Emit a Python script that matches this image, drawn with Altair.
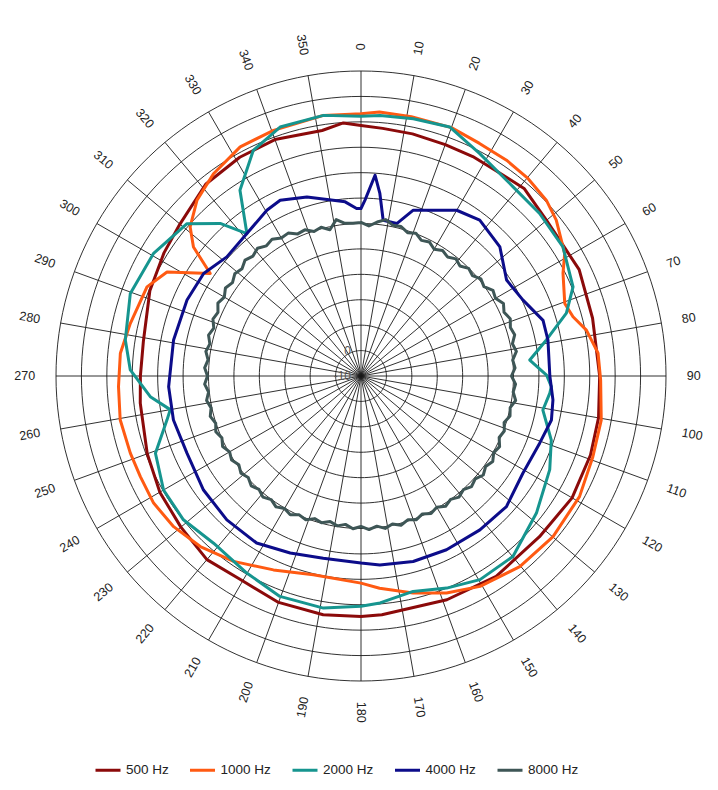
import altair as alt
import pandas as pd

series_names = ["500 Hz", "1000 Hz", "2000 Hz", "4000 Hz", "8000 Hz"]
series_colors = ["#8b0a0a", "#ff5a12", "#16958f", "#0c0c8a", "#3e5656"]

angles_500 = [0, 5, 12, 20, 27, 34, 41, 50, 58, 64, 76, 90, 100, 109, 120, 132, 146, 159, 175, 180,
              189, 200, 211, 220, 230, 240, 250, 263, 270, 279, 292, 302, 310, 321, 331, 340, 351, 356, 360]
levels_500 = [98.6, 97.8, 97.4, 96.9, 96.9, 96.7, 97.8, 95.3, 94.7, 95.5, 93.9, 93.9, 94.9, 95.5, 95.9, 94.5, 95.1, 94.3, 94.3, 94.6,
              95.1, 94.8, 93.1, 94.3, 92.5, 91.4, 89.5, 87.5, 86.8, 86.7, 89.6, 91.4, 93.0, 97.1, 98.4, 99.0, 97.8, 99.8, 98.6]

angles_1000 = [0, 4, 11, 20, 27, 34, 40, 46.5, 51.4, 59, 63, 70.4, 74.4, 78.5, 84.5, 91, 100.4, 109.2, 118.9, 129.9,
               140.2, 150.5, 158.5, 166.5, 175, 180, 193.5, 204.3, 214.5, 223.3, 231.2, 238.5, 245.5, 251.5, 259.7, 267.5,
               275.4, 282.8, 292.6, 298.2, 304.2, 307.6, 311.1, 317, 323.9, 332.2, 340.4, 351.8, 360]
levels_1000 = [103.2, 104.1, 103.9, 104.0, 102.7, 102.4, 101.8, 100.5, 98.3, 93.5, 89.2, 85.1, 86.6, 90.5, 93.7, 94.3, 96.1, 96.6, 98.2, 98.5,
               97.6, 95.1, 91.8, 87.8, 83.8, 81.5, 80.4, 83.7, 88.5, 92.2, 94.6, 95.7, 95.4, 95.7, 96.3, 95.5,
               95.1, 93.1, 91.2, 86.6, 71.7, 83.2, 89.2, 94.6, 98.5, 101.9, 102.6, 103.6, 103.2]

angles_2000 = [0, 4.2, 11.5, 19.6, 28.1, 38.8, 47.7, 57.4, 67.2, 73, 79, 84.6, 89.7, 93.2, 95.2, 100.6, 108.6, 116.4, 128, 139.9,
               149.7, 158, 166.4, 175.2, 180, 189.2, 200.2, 210.1, 221.4, 231, 240, 249.4, 257.2, 260, 264.4, 271.5, 278.7,
               289.7, 300.6, 311.2, 317.3, 321.3, 326.9, 334.5, 342, 351.8, 360]
levels_2000 = [102.2, 102.8, 103.3, 104.0, 99.2, 95.5, 95.0, 94.3, 90.5, 84.5, 74.3, 66.7, 73.0, 75.0, 74.6, 72.8, 79.0, 82.9, 87.6, 92.8,
               92.8, 90.0, 87.2, 89.6, 90.6, 92.5, 92.4, 89.6, 87.7, 89.9, 89.7, 86.4, 78.3, 76.2, 83.3, 90.8, 93.8,
               96.4, 94.8, 91.0, 81.7, 71.8, 87.2, 98.4, 103.0, 103.6, 102.2]

angles_4000 = [0, 1.3, 4, 5.9, 8.1, 13.2, 17.5, 25.4, 30, 37.3, 47.1, 56.6, 64.9, 73, 79.1, 90, 97.1, 103, 110.6, 121,
               131.9, 142.3, 153.8, 164.3, 174.3, 180, 191.7, 201.8, 212, 223, 234.1, 246.1, 256.8, 266.8, 280.9, 293.6,
               303.1, 311.6, 321.3, 330.4, 335.3, 343.2, 351, 354.8, 358.5, 360]
levels_4000 = [65.9, 69.2, 79.2, 72.2, 61.9, 61.6, 68.4, 72.2, 75.3, 77.1, 74.6, 68.6, 70.4, 74.9, 74.9, 74.3, 76.1, 76.9, 75.1, 74.3,
               76.9, 76.5, 76.2, 75.8, 74.7, 73.6, 73.2, 75.0, 77.5, 77.4, 76.5, 74.9, 75.8, 75.8, 75.1, 74.7,
               73.9, 70.6, 71.8, 75.0, 76.1, 73.6, 70.0, 68.8, 65.9, 65.9]

angles_8000 = list(range(0, 361, 3))
levels_8000 = [60.4, 59.1, 60.9, 62.3, 60.6, 60.9, 59.3, 60.2, 58.4, 59.2,
               57.6, 58.9, 57.9, 59.3, 58.2, 59.9, 59.0, 60.7, 59.8, 61.9,
               61.1, 62.9, 61.6, 62.9, 61.8, 62.6, 60.9, 61.9, 60.0, 60.7,
               59.2, 60.9, 60.2, 61.6, 60.0, 60.7, 59.2, 60.4, 59.5, 61.2,
               60.3, 61.8, 60.6, 61.9, 60.5, 61.5, 60.2, 61.3, 60.0, 61.1,
               59.6, 60.7, 59.4, 60.6, 59.5, 60.8, 59.5, 60.7, 59.4, 60.5,
               59.2, 60.2, 58.7, 59.7, 58.5, 59.8, 59.0, 60.6, 59.8, 61.3,
               60.2, 61.4, 60.1, 61.3, 60.0, 61.1, 59.7, 60.8, 59.4, 60.7,
               59.7, 61.1, 59.9, 61.2, 60.1, 61.4, 60.3, 61.5, 60.3, 61.6,
               60.4, 61.6, 60.5, 61.8, 60.8, 62.1, 60.9, 62.4, 61.6, 63.2,
               62.1, 63.6, 62.5, 63.9, 63.0, 64.5, 63.5, 64.7, 63.3, 64.2,
               62.7, 63.1, 61.2, 61.6, 59.8, 60.6, 58.8, 62.3, 60.4, 60.2,
               60.4]

ring_levels = [10, 20, 30, 40, 50, 60, 70, 80, 90, 100, 110, 120]
ring_angles = list(range(0, 361, 2))
spoke_angles = list(range(0, 360, 10))
angle_labels = [str(a) for a in spoke_angles]
radial_labels = ["-10", "0"]
radial_levels = [0, 10]

OUTER = 120
LABEL_R = 128.2

# ---- tables ----
rows = []
for name, angs, levs in zip(series_names,
                            [angles_500, angles_1000, angles_2000, angles_4000, angles_8000],
                            [levels_500, levels_1000, levels_2000, levels_4000, levels_8000]):
    for i, (a, l) in enumerate(zip(angs, levs)):
        rows.append({"series": name, "idx": i, "angle": a, "level": l})
df = pd.DataFrame(rows)

ring_df = pd.DataFrame([{"ring": r, "angle": a, "level": r} for r in ring_levels for a in ring_angles])
spoke_df = pd.DataFrame({"angle": spoke_angles, "level": [OUTER] * len(spoke_angles)})
label_df = pd.DataFrame({"angle": spoke_angles, "label": angle_labels, "level": [LABEL_R] * len(spoke_angles)})
rlabel_df = pd.DataFrame({"label": radial_labels, "level": radial_levels, "angle": [0, 0]})

xs = alt.Scale(domain=[-OUTER, OUTER], nice=False, zero=False)
ys = alt.Scale(domain=[-OUTER, OUTER], nice=False, zero=False)

def polar(ch):
    return ch.transform_calculate(
        x="datum.level * sin(datum.angle * PI / 180)",
        y="datum.level * cos(datum.angle * PI / 180)",
    )

X = alt.X("x:Q", scale=xs, axis=None)
Y = alt.Y("y:Q", scale=ys, axis=None)

rings = polar(alt.Chart(ring_df)).mark_line(color="#1a1a1a", strokeWidth=0.9).encode(
    x=X, y=Y, detail="ring:N", order="angle:Q"
)

spokes = polar(alt.Chart(spoke_df)).transform_calculate(x0="0", y0="0").mark_rule(
    color="#1a1a1a", strokeWidth=0.9
).encode(
    x=alt.X("x0:Q", scale=xs, axis=None),
    y=alt.Y("y0:Q", scale=ys, axis=None),
    x2="x:Q",
    y2="y:Q",
)

lines = polar(alt.Chart(df)).mark_line(strokeWidth=3, strokeJoin="round", strokeCap="round").encode(
    x=X,
    y=Y,
    order="idx:Q",
    color=alt.Color(
        "series:N",
        scale=alt.Scale(domain=series_names, range=series_colors),
        legend=alt.Legend(
            title=None,
            orient="none",
            legendX=38,
            legendY=685,
            direction="horizontal",
            columns=5,
            symbolType="stroke",
            symbolStrokeWidth=3,
            symbolSize=625,
            labelFontSize=13.5,
            labelFont="Liberation Sans",
            labelColor="#222222",
            columnPadding=14.5,
            labelOffset=4,
            padding=0,
        ),
    ),
)

label_style = dict(font="Liberation Sans", fontSize=12.5, color="#222222", baseline="middle")

alabels_right = polar(alt.Chart(label_df)).transform_filter("datum.angle <= 180").transform_calculate(
    rot="(datum.angle + 270) % 360"
).mark_text(align="left", **label_style).encode(
    x=X, y=Y, text="label:N", angle=alt.Angle("rot:Q", scale=None)
)

alabels_left = polar(alt.Chart(label_df)).transform_filter("datum.angle > 180").transform_calculate(
    rot="(datum.angle + 90) % 360"
).mark_text(align="right", **label_style).encode(
    x=X, y=Y, text="label:N", angle=alt.Angle("rot:Q", scale=None)
)

rlabels = polar(alt.Chart(rlabel_df)).mark_text(
    font="Liberation Sans", fontSize=12, color="#555555", align="right", baseline="middle", dx=-10
).encode(x=X, y=Y, text="label:N")

chart = alt.layer(rings, spokes, lines, alabels_right, alabels_left, rlabels).properties(
    width=610,
    height=610,
    padding={"left": 48, "top": 63, "right": 42, "bottom": 100},
    autosize=alt.AutoSizeParams(type="none"),
    background="white",
).configure_view(stroke=None)

chart.save("out.html", embed_options={"renderer": "svg", "actions": False})
